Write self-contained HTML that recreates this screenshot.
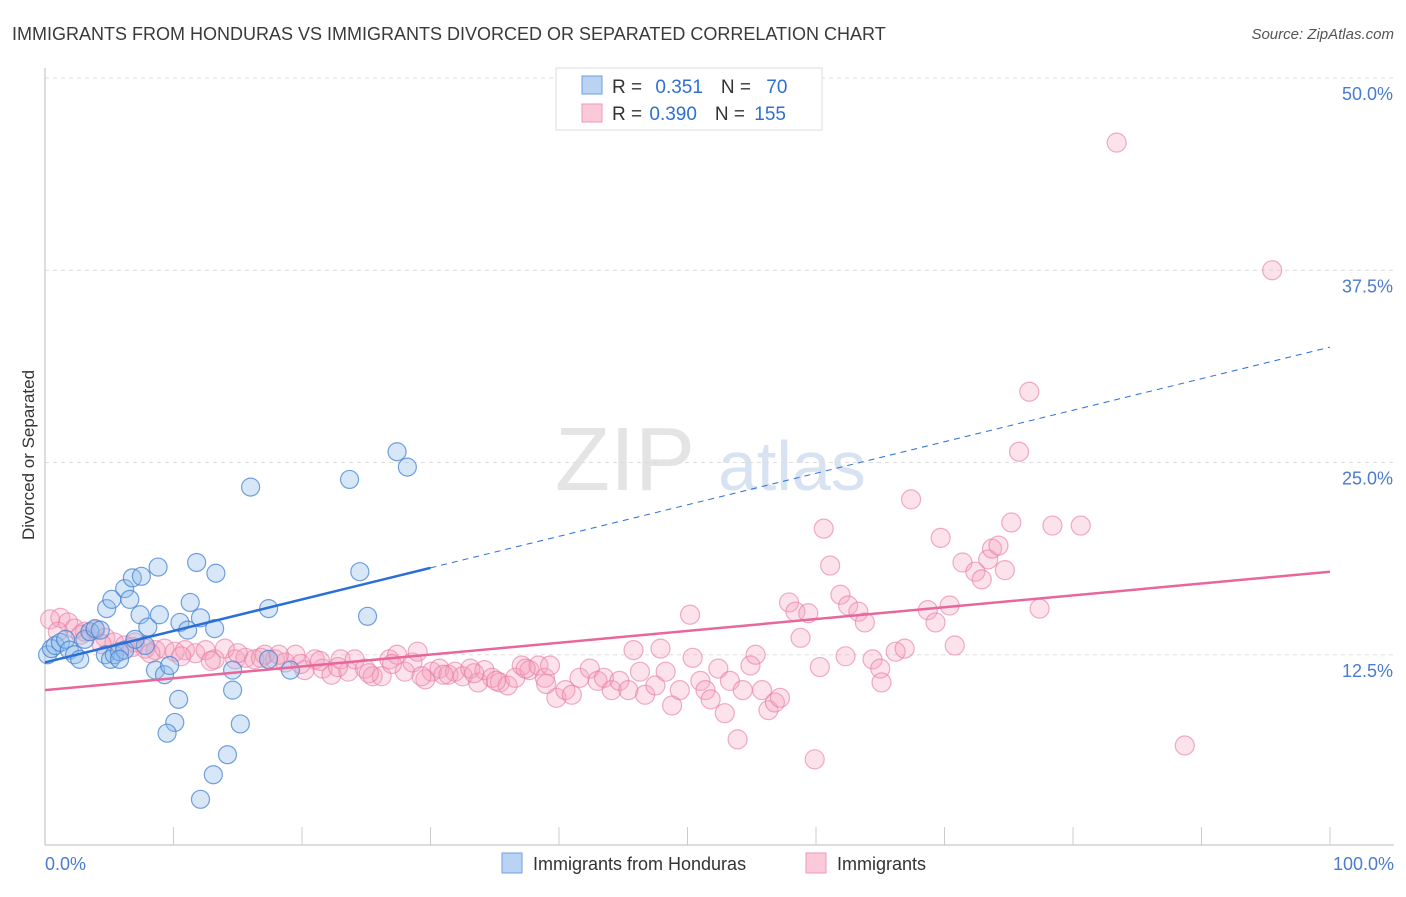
<!DOCTYPE html>
<html><head><meta charset="utf-8"><style>
body{margin:0;background:#fff;font-family:"Liberation Sans",sans-serif;}
svg text{font-family:"Liberation Sans",sans-serif;}
</style></head><body>
<svg id="c" width="1406" height="892" xmlns="http://www.w3.org/2000/svg">
<text x="12" y="40" font-size="18" fill="#3a3a3a">IMMIGRANTS FROM HONDURAS VS IMMIGRANTS DIVORCED OR SEPARATED CORRELATION CHART</text>
<text x="1394" y="39" font-size="15" fill="#555" text-anchor="end" font-style="italic">Source: ZipAtlas.com</text>
<text x="555" y="490" font-size="90" fill="#e4e4e4" font-family="Liberation Serif">ZIP</text>
<text x="718" y="490" font-size="70" fill="#d7e3f3">atlas</text>
<text transform="translate(34,455) rotate(-90)" font-size="17" fill="#333" text-anchor="middle">Divorced or Separated</text>
<g id="grid"></g><g id="pts"></g><g id="lines"></g>
<g>
<rect x="556" y="68" width="266" height="62" fill="#fff" stroke="#ddd"/>
<rect x="582" y="76" width="20" height="18" fill="#b9d3f3" stroke="#6d9de0"/>
<rect x="582" y="104" width="20" height="18" fill="#fbc9d8" stroke="#ee9ab5"/>
<text x="612" y="93" font-size="19" fill="#333">R = <tspan fill="#2f6fd0" dx="8">0.351</tspan><tspan dx="18" fill="#333">N = </tspan><tspan dx="10" fill="#2f6fd0">70</tspan></text>
<text x="612" y="120" font-size="19" fill="#333">R = <tspan fill="#2f6fd0" dx="2">0.390</tspan><tspan dx="18" fill="#333">N = </tspan><tspan dx="4" fill="#2f6fd0">155</tspan></text>
</g>
<g>
<rect x="502" y="853" width="20" height="20" fill="#b9d3f3" stroke="#6d9de0"/>
<text x="533" y="870" font-size="18" fill="#333">Immigrants from Honduras</text>
<rect x="806" y="853" width="20" height="20" fill="#fbc9d8" stroke="#ee9ab5"/>
<text x="837" y="870" font-size="18" fill="#333">Immigrants</text>
</g>
<text x="45" y="870" font-size="18" fill="#4a7bd0">0.0%</text>
<text x="1394" y="870" font-size="18" fill="#4a7bd0" text-anchor="end">100.0%</text>
</svg>
<script>
const yTicks=[12.5,25,37.5,50];
const yTickLabels=["12.5%","25.0%","37.5%","50.0%"];
const blueX=[0.2,0.5,0.8,1.2,1.6,1.9,2.3,2.7,3.1,3.5,3.9,4.3,4.7,5.1,5.4,5.8,4.8,5.2,6.2,6.6,6.8,7.5,7.4,8.0,8.8,8.9,8.6,9.3,9.7,10.4,10.1,9.5,10.5,11.1,11.3,11.8,12.1,13.2,13.3,13.1,14.2,14.6,14.6,15.2,12.1,16.0,17.4,19.1,23.7,24.5,25.1,27.4,28.2,17.4,6.2,7.8,7.0,5.8];
const blueY=[12.5,12.9,13.1,13.3,13.5,12.8,12.5,12.2,13.5,14.0,14.2,14.1,12.5,12.2,12.5,12.7,15.5,16.1,16.8,16.1,17.5,17.6,15.1,14.3,18.2,15.1,11.5,11.2,11.8,9.6,8.1,7.4,14.6,14.1,15.9,18.5,14.9,14.2,17.8,4.7,6.0,10.2,11.5,8.0,3.1,23.4,15.5,11.5,23.9,17.9,15.0,25.7,24.7,12.2,12.8,13.1,13.5,12.2];
const pinkX=[0.4,1.2,1.8,2.3,3.1,3.9,4.7,5.4,6.2,7.0,7.8,8.6,9.3,10.1,10.9,11.7,12.5,13.2,14.0,14.8,15.6,16.3,17.1,17.9,18.7,19.5,20.2,21.0,21.6,22.3,23.0,23.6,24.1,24.9,25.5,26.2,26.8,27.4,28.0,28.6,29.0,29.6,30.1,30.7,31.4,31.9,32.5,33.1,33.7,34.2,34.8,35.4,36.0,36.6,37.1,37.7,38.4,38.9,39.3,39.8,40.5,41.0,41.6,42.4,43.0,43.5,44.1,44.7,45.4,46.3,46.7,47.5,48.3,48.8,49.4,50.4,51.0,51.4,51.8,52.4,52.9,53.3,53.9,54.3,54.9,55.3,55.8,56.3,56.8,57.2,50.2,47.9,45.8,57.9,58.4,59.4,58.8,59.9,60.3,60.6,61.1,61.9,62.5,62.3,63.3,63.8,64.4,65.0,65.1,66.2,66.9,67.4,68.7,69.3,69.7,70.4,70.8,71.4,72.4,72.9,73.4,73.7,74.2,74.7,75.2,75.8,76.6,77.4,78.4,80.6,83.4,88.7,95.5,1.0,2.8,4.4,6.8,8.2,10.6,12.9,15.0,16.8,18.2,19.9,21.4,22.8,25.2,27.0,29.3,31.0,33.4,35.1,37.4,39.0];
const pinkY=[14.8,14.9,14.6,14.2,14.0,14.1,13.6,13.3,13.1,13.3,12.9,12.8,12.9,12.7,12.8,12.6,12.8,12.2,12.9,12.2,12.3,12.2,12.5,12.2,12.0,12.5,11.5,12.2,11.6,11.2,12.2,11.4,12.2,11.6,11.1,11.1,12.2,12.5,11.4,12.0,12.7,10.9,11.4,11.6,11.2,11.4,11.1,11.6,10.7,11.5,11.0,10.7,10.5,11.0,11.8,11.5,11.8,11.0,11.8,9.7,10.2,9.9,11.0,11.6,10.8,11.0,10.2,10.8,10.2,11.4,9.9,10.5,11.4,9.2,10.2,12.3,10.8,10.2,9.6,11.6,8.7,10.8,7.0,10.2,11.8,12.5,10.2,8.9,9.4,9.7,15.1,12.9,12.8,15.9,15.3,15.2,13.6,5.7,11.7,20.7,18.3,16.4,15.7,12.4,15.3,14.6,12.2,11.6,10.7,12.7,12.9,22.6,15.4,14.6,20.1,15.7,13.1,18.5,17.9,17.4,18.7,19.4,19.6,18.0,21.1,25.7,29.6,15.5,20.9,20.9,45.8,6.6,37.5,14.0,13.8,13.2,13.0,12.6,12.4,12.1,12.6,12.3,12.5,11.9,12.1,11.7,11.3,11.9,11.1,11.2,11.3,10.8,11.6,10.6];
const blueLine=[12.0,32.5]; // y at x=0 and x=100
const blueSolidEnd=30;
const pinkLine=[10.2,17.9];

const NS="http://www.w3.org/2000/svg";
const X=p=>45+p*12.85;
const Y=v=>847-v*15.38;
function mk(tag,attrs,parent){const e=document.createElementNS(NS,tag);for(const k in attrs)e.setAttribute(k,attrs[k]);parent.appendChild(e);return e;}
const grid=document.getElementById('grid');
yTicks.forEach((t,i)=>{
 const l=mk('line',{x1:45,x2:1394,y1:Y(t),y2:Y(t),stroke:'#ddd','stroke-dasharray':'4,4'},grid);
 
 
 const tx=mk('text',{x:1393,y:Y(t)+22,'font-size':18,fill:'#4a7bd0','text-anchor':'end'},grid);
 tx.textContent=yTickLabels[i];
 
 
});
const ax=mk('line',{x1:45,x2:45,y1:68,y2:845,stroke:'#bbb'},grid);


const bx=mk('line',{x1:45,x2:1394,y1:845,y2:845,stroke:'#bbb'},grid);


for(let i=1;i<=10;i++){
 const t=mk('line',{x1:X(i*10),x2:X(i*10),y1:827,y2:845,stroke:'#ccc'},grid);
 
 
}
const pts=document.getElementById('pts');
pinkX.forEach((x,i)=>{
 const c=mk('circle',{cx:X(x),cy:Y(pinkY[i]),r:9.5,fill:'rgba(246,160,190,0.3)',stroke:'rgba(232,120,160,0.6)','stroke-width':1.2},pts);
 
 
});
blueX.forEach((x,i)=>{
 const c=mk('circle',{cx:X(x),cy:Y(blueY[i]),r:9,fill:'rgba(140,185,235,0.35)',stroke:'rgba(70,130,210,0.75)','stroke-width':1.2},pts);
 
 
});
const lines=document.getElementById('lines');
const by=p=>blueLine[0]+(blueLine[1]-blueLine[0])*p/100;
const bl1=mk('line',{x1:X(0),y1:Y(by(0)),x2:X(blueSolidEnd),y2:Y(by(blueSolidEnd)),stroke:'#2a6fd6','stroke-width':2.5},lines);


const bl2=mk('line',{x1:X(blueSolidEnd),y1:Y(by(blueSolidEnd)),x2:X(100),y2:Y(by(100)),stroke:'#2a6fd6','stroke-width':1,'stroke-dasharray':'6,5'},lines);


const pl=mk('line',{x1:X(0),y1:Y(pinkLine[0]),x2:X(100),y2:Y(pinkLine[1]),stroke:'#e8679a','stroke-width':2.5},lines);


</script>
</body></html>
